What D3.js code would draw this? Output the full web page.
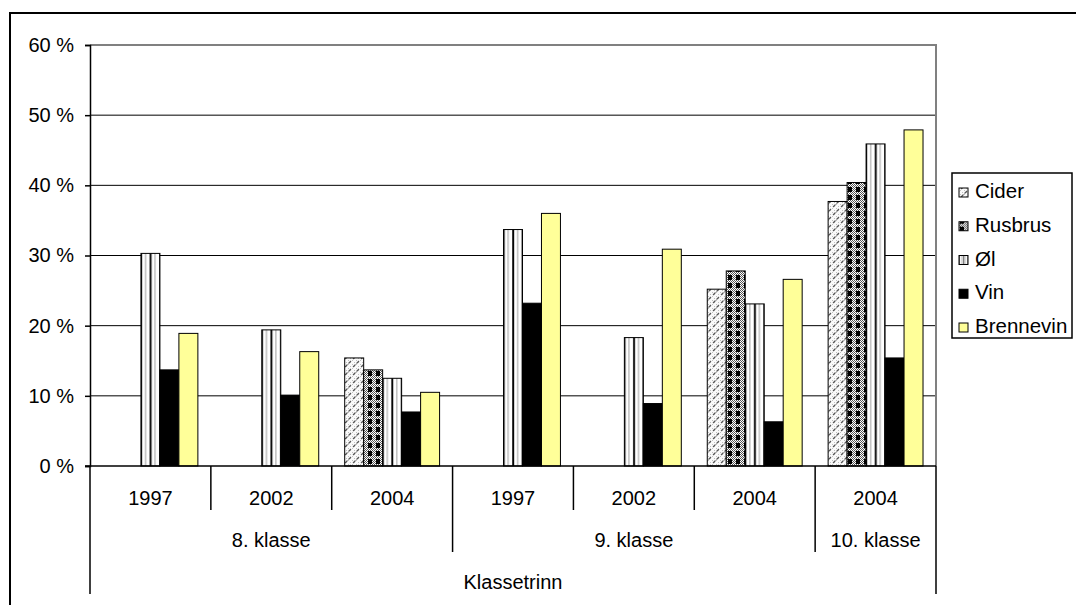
<!DOCTYPE html>
<html>
<head>
<meta charset="utf-8">
<script src="https://cdn.jsdelivr.net/npm/d3@7"></script>
<style>
  body { margin: 0; background: #fff; }
  svg text { font-family: "Liberation Sans", Arial, sans-serif; fill: #000; }
</style>
</head>
<body>
<svg id="chart" width="1076" height="605"></svg>
<script>
// Data
const klasser = ["8. klasse", "9. klasse", "10. klasse"];
const groupKlasse = ["8. klasse", "8. klasse", "8. klasse", "9. klasse", "9. klasse", "9. klasse", "10. klasse"];
const groupYears = ["1997", "2002", "2004", "1997", "2002", "2004", "2004"];
const seriesNames = ["Cider", "Rusbrus", "Øl", "Vin", "Brennevin"];
const cider     = [null, null, 15.4, null, null, 25.2, 37.7];
const rusbrus   = [null, null, 13.7, null, null, 27.8, 40.4];
const ol        = [30.3, 19.4, 12.5, 33.7, 18.3, 23.1, 45.9];
const vin       = [13.7, 10.1, 7.7, 23.2, 8.9, 6.3, 15.4];
const brennevin = [18.9, 16.3, 10.5, 36.0, 30.9, 26.6, 47.9];
const yTicks = [0, 10, 20, 30, 40, 50, 60];
const seriesValues = [cider, rusbrus, ol, vin, brennevin];

const svg = d3.select("#chart");
const margin = { top: 45, left: 90, right: 936, bottom: 466 };

// outer frame
svg.append("rect")
  .attr("x", 10).attr("y", 13)
  .attr("width", 1100).attr("height", 700)
  .attr("fill", "none").attr("stroke", "#000").attr("stroke-width", 2);

// Patterns
const defs = svg.append("defs");

const pCider = defs.append("pattern").attr("id", "p-cider")
  .attr("patternUnits", "userSpaceOnUse").attr("width", 8).attr("height", 8);
pCider.append("rect").attr("width", 8).attr("height", 8).attr("fill", "#fafafa");
[[0,0],[4,0],[2,2],[6,2],[0,4],[4,4],[2,6],[6,6]].forEach(([x, y]) =>
  pCider.append("rect").attr("x", x).attr("y", y).attr("width", 1).attr("height", 1).attr("fill", "#c0c0c0"));
pCider.append("line").attr("x1", 1).attr("y1", 7).attr("x2", 3.5).attr("y2", 4.5)
  .attr("stroke", "#555").attr("stroke-width", 1.1);
pCider.append("line").attr("x1", 4.5).attr("y1", 3.5).attr("x2", 7).attr("y2", 1)
  .attr("stroke", "#555").attr("stroke-width", 1.1);

const pRus = defs.append("pattern").attr("id", "p-rus")
  .attr("patternUnits", "userSpaceOnUse").attr("width", 8).attr("height", 8);
pRus.append("rect").attr("width", 8).attr("height", 8).attr("fill", "#fff");
for (let i = 0; i < 8; i++) for (let j = 0; j < 8; j++)
  if ((i + j) % 2 === 0) pRus.append("rect").attr("x", i).attr("y", j).attr("width", 1).attr("height", 1).attr("fill", "#555");
pRus.append("rect").attr("x", 0).attr("y", 3).attr("width", 4).attr("height", 5).attr("fill", "#000");

// Øl: bar split by a black centre line and two grey quarter lines
const pOl = defs.append("pattern").attr("id", "p-ol")
  .attr("patternUnits", "objectBoundingBox").attr("width", 0.5).attr("height", 1)
  .attr("patternContentUnits", "objectBoundingBox");
pOl.append("rect").attr("width", 0.5).attr("height", 1).attr("fill", "#fff");
pOl.append("rect").attr("x", 0).attr("width", 0.06).attr("height", 1).attr("fill", "#000");
pOl.append("rect").attr("x", 0.22).attr("width", 0.05).attr("height", 1).attr("fill", "#999");
pOl.append("rect").attr("x", 0.46).attr("width", 0.04).attr("height", 1).attr("fill", "#000");

const fills = {
  "Cider": "url(#p-cider)",
  "Rusbrus": "url(#p-rus)",
  "Øl": "url(#p-ol)",
  "Vin": "#000",
  "Brennevin": "#ffff99"
};

// Scales
const x0 = d3.scaleBand()
  .domain(d3.range(groupYears.length))
  .range([margin.left, margin.right])
  .paddingInner(0).paddingOuter(0);

const x1 = d3.scaleBand()
  .domain(seriesNames)
  .range([0, x0.bandwidth()])
  .paddingInner(0).paddingOuter(0.684);

const y = d3.scaleLinear()
  .domain([0, 60])
  .range([margin.bottom, margin.top]);

// Gridlines
svg.append("g").selectAll("line")
  .data(yTicks.filter(d => d > 0 && d < 60))
  .enter().append("line")
  .attr("x1", margin.left).attr("x2", margin.right)
  .attr("y1", d => y(d)).attr("y2", d => y(d))
  .attr("stroke", "#000").attr("stroke-width", 1);

// plot border (top + right)
svg.append("path")
  .attr("d", `M${margin.left},${y(60)}H${margin.right}V${margin.bottom}`)
  .attr("fill", "none").attr("stroke", "#808080").attr("stroke-width", 2);

// Bars
const barData = [];
seriesNames.forEach((s, si) => {
  seriesValues[si].forEach((v, gi) => {
    if (v != null) barData.push({ series: s, group: gi, value: v });
  });
});

svg.append("g").selectAll("rect")
  .data(barData)
  .enter().append("rect")
  .attr("x", d => x0(d.group) + x1(d.series))
  .attr("y", d => y(d.value))
  .attr("width", x1.bandwidth())
  .attr("height", d => y(0) - y(d.value))
  .attr("fill", d => fills[d.series])
  .attr("stroke", "#000").attr("stroke-width", 1);

// Y axis
const yAxis = svg.append("g")
  .attr("transform", `translate(${margin.left},0)`)
  .call(d3.axisLeft(y).tickValues(yTicks).tickFormat(d => d + " %").tickSize(5).tickPadding(11));
yAxis.select(".domain").attr("stroke", "#000").attr("stroke-width", 1.5);
yAxis.selectAll(".tick line").attr("stroke", "#000").attr("stroke-width", 1.5);
yAxis.selectAll("text").style("font-size", "20px").attr("font-family", null);

// X axis baseline
svg.append("line")
  .attr("x1", margin.left - 5).attr("x2", margin.right)
  .attr("y1", y(0)).attr("y2", y(0))
  .attr("stroke", "#000").attr("stroke-width", 1.5);

// X axis: multi-level category dividers
const boundaries = d3.range(groupYears.length + 1).map(i =>
  i < groupYears.length ? x0(i) : x0(groupYears.length - 1) + x0.bandwidth());
const divider = svg.append("g").attr("stroke", "#000").attr("stroke-width", 1.5);
boundaries.forEach((bx, i) => {
  let yEnd;
  if (i === 0 || i === groupYears.length) yEnd = 594;
  else if (groupKlasse[i] !== groupKlasse[i - 1]) yEnd = 552;
  else yEnd = 510;
  divider.append("line").attr("x1", bx).attr("x2", bx).attr("y1", y(0)).attr("y2", yEnd);
});

// year labels
svg.append("g").selectAll("text")
  .data(groupYears)
  .enter().append("text")
  .attr("x", (d, i) => x0(i) + x0.bandwidth() / 2)
  .attr("y", 505)
  .attr("text-anchor", "middle")
  .style("font-size", "20px")
  .text(d => d);

// klasse labels
svg.append("g").selectAll("text")
  .data(klasser)
  .enter().append("text")
  .attr("x", k => {
    const idx = groupKlasse.map((g, i) => g === k ? i : -1).filter(i => i >= 0);
    return (x0(idx[0]) + x0(idx[idx.length - 1]) + x0.bandwidth()) / 2;
  })
  .attr("y", 547)
  .attr("text-anchor", "middle")
  .style("font-size", "20px")
  .text(d => d);

svg.append("text")
  .attr("x", (margin.left + margin.right) / 2)
  .attr("y", 589)
  .attr("text-anchor", "middle")
  .style("font-size", "20px")
  .text("Klassetrinn");

// Legend
const legend = svg.append("g");
legend.append("rect")
  .attr("x", 952).attr("y", 173).attr("width", 120).attr("height", 165)
  .attr("fill", "#fff").attr("stroke", "#000").attr("stroke-width", 1.5);
const item = legend.selectAll("g.item")
  .data(seriesNames)
  .enter().append("g")
  .attr("class", "item")
  .attr("transform", (d, i) => `translate(0,${198 + i * 33.75})`);
item.append("rect")
  .attr("x", 959).attr("y", -10).attr("width", 9).attr("height", 9)
  .attr("fill", d => fills[d]).attr("stroke", "#000").attr("stroke-width", 1);
item.append("text")
  .attr("x", 975).attr("y", 0)
  .style("font-size", "20.5px")
  .text(d => d);
</script>
</body>
</html>
